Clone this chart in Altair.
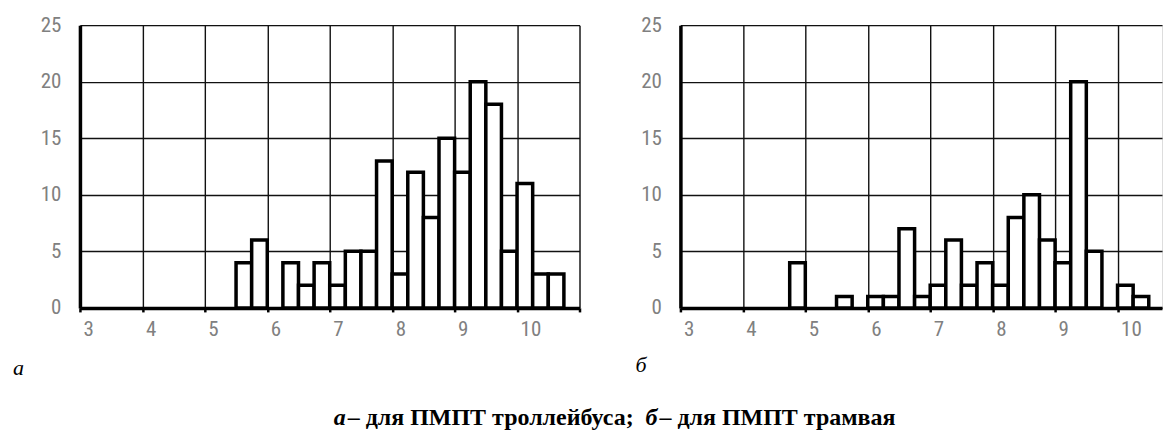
import altair as alt
import pandas as pd

# --- data (bin start, count), bin width 0.25 ---
trol_start = [5.5, 5.75, 6.25, 6.5, 6.75, 7.0, 7.25, 7.5, 7.75, 8.0, 8.25, 8.5, 8.75,
              9.0, 9.25, 9.5, 9.75, 10.0, 10.25, 10.5]
trol_count = [4, 6, 4, 2, 4, 2, 5, 5, 13, 3, 12, 8, 15, 12, 20, 18, 5, 11, 3, 3]

tram_start = [4.75, 5.5, 6.0, 6.25, 6.5, 6.75, 7.0, 7.25, 7.5, 7.75, 8.0, 8.25, 8.5,
              8.75, 9.0, 9.25, 9.5, 10.0, 10.25]
tram_count = [4, 1, 1, 1, 7, 1, 2, 6, 2, 4, 2, 8, 10, 6, 4, 20, 5, 2, 1]

bin_width = 0.25
x_ticks = [3, 4, 5, 6, 7, 8, 9, 10, 11]
y_ticks = [0, 5, 10, 15, 20, 25]

LABEL_FONT = "Liberation Sans Narrow, Roboto Condensed, DejaVu Sans Condensed, sans-serif"
SERIF = "Liberation Serif, Times New Roman, serif"


def make_df(starts, counts):
    return pd.DataFrame({
        "start": starts,
        "end": [s + bin_width for s in starts],
        "count": counts,
    })


def panel(df, width, xmax):
    x_scale = alt.Scale(domain=[3, xmax], nice=False, zero=False)
    y_scale = alt.Scale(domain=[0, 25], nice=False)
    xax = alt.Axis(values=x_ticks, title=None, grid=True, gridColor="#111", gridWidth=1.4,
                   gridOpacity=1, domainColor="#000", domainWidth=3.5, tickColor="#000",
                   tickWidth=2.5, tickSize=4, labelFont=LABEL_FONT, labelFontSize=21,
                   labelColor="#808080", labelAlign="left", labelOffset=3,
                   labelPadding=7, labelFlush=False,
                   labelExpr="datum.value == 11 ? '' : datum.label")
    yax = alt.Axis(values=y_ticks, title=None, grid=True, gridColor="#111", gridWidth=1.4,
                   gridOpacity=1, domainColor="#000", domainWidth=3.5, ticks=False,
                   labelFont=LABEL_FONT, labelFontSize=21, labelColor="#808080",
                   labelPadding=19, labelFlush=False)
    bars = alt.Chart(df).mark_rect(fill="white", stroke="black", strokeWidth=3.5,
                                   strokeJoin="miter").encode(
        x=alt.X("start:Q", scale=x_scale, axis=xax),
        x2="end:Q",
        y=alt.Y("count:Q", scale=y_scale, axis=yax),
        y2=alt.datum(0),
    )
    return bars.properties(width=width, height=283)


left = panel(make_df(trol_start, trol_count), 500, 11)
right = panel(make_df(tram_start, tram_count), 482, 3 + 482 / 62.5)

# captions (pixel-positioned annotations in the left panel)
cap = pd.DataFrame({
    "txt": ["а", "– для ПМПТ троллейбуса;", "б", "– для ПМПТ трамвая", "а", "б"],
    "px": [254, 268, 566, 580, -67, 556],
    "py": [393, 393, 393, 393, 343, 340],
    "it": ["italic", "normal", "italic", "normal", "italic", "italic"],
    "bw": ["bold", "bold", "bold", "bold", "normal", "normal"],
    "fs": [24, 24, 24, 24, 22, 22],
})
texts = []
for i in range(len(cap)):
    row = cap.iloc[[i]]
    texts.append(
        alt.Chart(row).mark_text(
            align="left", baseline="middle", font=SERIF, fontSize=float(row["fs"].iloc[0]),
            fontStyle=row["it"].iloc[0], fontWeight=row["bw"].iloc[0], color="black"
        ).encode(x=alt.value(int(row["px"].iloc[0])), y=alt.value(int(row["py"].iloc[0])),
                 text="txt:N")
    )

left_full = alt.layer(left, *texts)

chart = alt.hconcat(left_full, right, spacing=101, bounds="flush").properties(
    padding={"left": 4, "top": 5, "right": 0, "bottom": 0}
).configure_view(stroke=None).configure(background="white")

chart.save("out.html", embed_options={"renderer": "svg", "actions": False})
